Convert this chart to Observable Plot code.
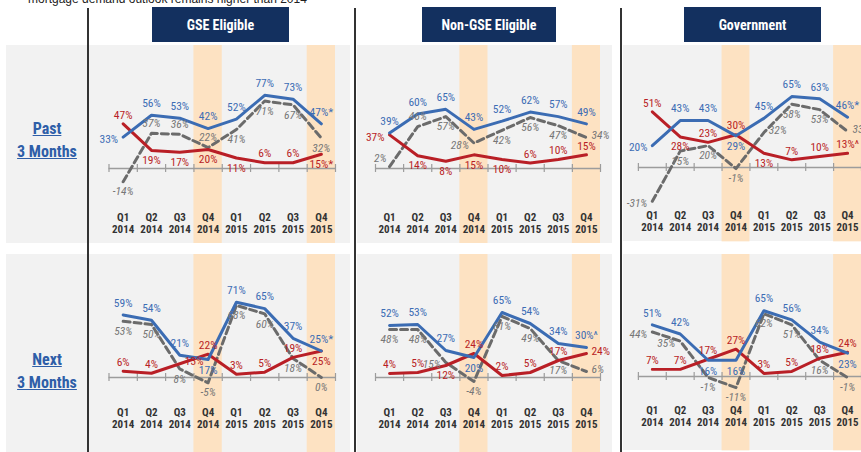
<!DOCTYPE html>
<html><head><meta charset="utf-8">
<script src="https://cdn.jsdelivr.net/npm/d3@7"></script>
<script src="https://cdn.jsdelivr.net/npm/@observablehq/plot@0.6"></script>
<style>
body{margin:0;background:#fff;}
#root{position:relative;width:861px;height:452px;overflow:hidden;background:#fff;font-family:"Liberation Sans Narrow","Roboto Condensed","DejaVu Sans Condensed",sans-serif;}
.abs{position:absolute;}
.hdr{position:absolute;top:7px;height:35px;background:#13305f;color:#fff;font-weight:bold;font-size:14px;display:flex;align-items:center;justify-content:center;}
.vline{position:absolute;top:8px;bottom:0;width:2px;background:#333;}
.rowlab{position:absolute;left:6px;width:82px;text-align:center;color:#2e5ea8;font-size:16px;line-height:23px;font-weight:bold;}
.rowlab span{text-decoration:underline;}
.plotwrap{position:absolute;}
</style></head><body><div id="root"></div>
<script>
// ---------- data ----------
const quarterLabels = ["Q1\n2014","Q2\n2014","Q3\n2014","Q4\n2014","Q1\n2015","Q2\n2015","Q3\n2015","Q4\n2015"];
const highlightQuarters = [3, 7];
const segments = ["GSE Eligible", "Non-GSE Eligible", "Government"];
const horizons = ["Past", "Next"];
const headline = "mortgage demand outlook remains higher than 2014";

// Past 3 months: share reporting growth (up), decline (down), net
const pastGseUp   = [33, 56, 53, 42, 52, 77, 73, 47];
const pastGseDown = [47, 19, 17, 20, 11, 6, 6, 15];
const pastGseNet  = [-14, 37, 36, 22, 41, 71, 67, 32];
const pastNonUp   = [39, 60, 65, 43, 52, 62, 57, 49];
const pastNonDown = [37, 14, 8, 15, 10, 6, 10, 15];
const pastNonNet  = [2, 46, 57, 28, 42, 56, 47, 34];
const pastGovUp   = [20, 43, 43, 29, 45, 65, 63, 46];
const pastGovDown = [51, 28, 23, 30, 13, 7, 10, 13];
const pastGovNet  = [-31, 15, 20, -1, 32, 58, 53, 33];
// Next 3 months
const nextGseUp   = [59, 54, 21, 17, 71, 65, 37, 25];
const nextGseDown = [6, 4, 13, 22, 3, 5, 19, 25];
const nextGseNet  = [53, 50, 8, -5, 68, 60, 18, 0];
const nextNonUp   = [52, 53, 27, 20, 65, 54, 34, 30];
const nextNonDown = [4, 5, 12, 24, 2, 5, 17, 24];
const nextNonNet  = [48, 48, 15, -4, 61, 49, 17, 6];
const nextGovUp   = [51, 42, 16, 16, 65, 56, 34, 23];
const nextGovDown = [7, 7, 17, 27, 3, 5, 18, 24];
const nextGovNet  = [44, 35, -1, -11, 62, 51, 16, -1];

// footnote markers on labels
const labelNotes = [
  {h: 0, s: 0, series: "up", q: 7, mark: "*"},
  {h: 0, s: 0, series: "down", q: 7, mark: "*"},
  {h: 0, s: 2, series: "up", q: 7, mark: "*"},
  {h: 0, s: 2, series: "down", q: 7, mark: "^"},
  {h: 1, s: 0, series: "up", q: 7, mark: "*"},
  {h: 1, s: 1, series: "up", q: 7, mark: "^"}
];

const seriesTable = [
  [[pastGseUp, pastGseDown, pastGseNet], [pastNonUp, pastNonDown, pastNonNet], [pastGovUp, pastGovDown, pastGovNet]],
  [[nextGseUp, nextGseDown, nextGseNet], [nextNonUp, nextNonDown, nextNonNet], [nextGovUp, nextGovDown, nextGovNet]]
];

// ---------- layout ----------
// label side per quarter: a = above, b = below, l = left, k = left-above, r = right
const labelSides = [
  [ {up: "laaaaaaa", down: "abbbbaab", net: "baaabbbb"},
    {up: "aaaaaaaa", down: "lbbbbaaa", net: "kablbbbr"},
    {up: "laabaaaa", down: "abaabaaa", net: "lbbbrbbr"} ],
  [ {up: "aaabaaaa", down: "aaraaaab", net: "bbbbbbbb"},
    {up: "aaabaaaa", down: "aabaaaar", net: "bblbbbbr"},
    {up: "aabbaaab", down: "aaaaaaaa", net: "llbbbbbb"} ]
];
const sideOffsets = {
  a: {dx: 0, dy: -11, anchor: "middle"},
  b: {dx: 0, dy: 11, anchor: "middle"},
  l: {dx: -5, dy: 2, anchor: "end"},
  k: {dx: -3, dy: -8, anchor: "end"},
  r: {dx: 5, dy: -2, anchor: "start"}
};
const seriesDy = {
  up: {a: -12, b: 11},
  down: {a: -9, b: 10},
  net: {a: -10, b: 10}
};

const FONT = '"Liberation Sans Narrow","Roboto Condensed","DejaVu Sans Condensed",sans-serif';
const rowGeom = [
  {top: 45, height: 198, zero: 168, tickDy: 166.5},
  {top: 254, height: 198, zero: 377, tickDy: 152.5}
];
const colGeom = [
  {left: 88, width: 262, bandL: 108.5, bandR: 335, hdrL: 152, hdrR: 289},
  {left: 357, width: 255, bandL: 375, bandR: 600, hdrL: 422, hdrR: 556},
  {left: 623, width: 240, bandL: 638, bandR: 863, hdrL: 684, hdrR: 821}
];
const pxPerUnit = [[0.95, 0.91, 1.1], [1.06, 1.0, 1.02]];

const BLUE = "#3b6cb3", RED = "#b91f26", GRAY = "#6b6b6b";
const seriesStyle = {
  up: {fill: "#3d6db5", fontStyle: "normal"},
  down: {fill: RED, fontStyle: "normal"},
  net: {fill: "#777", fontStyle: "italic"}
};
const root = document.getElementById("root");
function add(html) { root.insertAdjacentHTML("beforeend", html); }

// headline (cut off at top as in the source)
add(`<div class="abs" style="left:28px;top:-8px;font-size:12px;color:#222;white-space:nowrap;font-family:'Liberation Sans',Arial,sans-serif">${headline}</div>`);
// left label column
add(`<div class="abs" style="left:6px;top:45px;width:82px;height:198px;background:#f2f2f2"></div>`);
add(`<div class="abs" style="left:6px;top:254px;width:82px;height:198px;background:#f2f2f2"></div>`);
add(`<div class="rowlab" style="top:117px"><span>${horizons[0]}</span><br><span>3 Months</span></div>`);
add(`<div class="rowlab" style="top:348px"><span>${horizons[1]}</span><br><span>3 Months</span></div>`);

colGeom.forEach((c, s) => {
  add(`<div class="hdr" style="left:${c.hdrL}px;width:${c.hdrR - c.hdrL}px">${segments[s]}</div>`);
});

const edges = quarterLabels.map((_, i) => i - 0.5).concat([quarterLabels.length - 0.5]);

function noteFor(h, s, series, q) {
  const n = labelNotes.find(d => d.h === h && d.s === s && d.series === series && d.q === q);
  return n ? n.mark : "";
}

rowGeom.forEach((r, h) => {
  colGeom.forEach((c, s) => {
    const [up, down, net] = seriesTable[h][s];
    const k = pxPerUnit[h][s];
    const rows = quarterLabels.map((q, i) => ({i, up: up[i], down: down[i], net: net[i]}));
    const labelMarks = [];
    ["net", "down", "up"].forEach(series => {
      const sides = labelSides[h][s][series];
      Object.keys(sideOffsets).forEach(side => {
        const pts = rows.filter(d => sides[d.i] === side)
          .map(d => ({i: d.i, v: d[series], t: `${d[series]}%${noteFor(h, s, series, d.i)}`}));
        if (!pts.length) return;
        const o = sideOffsets[side];
        const dy = seriesDy[series][side] ?? o.dy;
        labelMarks.push(Plot.text(pts, {
          x: "i", y: "v", text: "t", dx: o.dx, dy, textAnchor: o.anchor,
          fill: seriesStyle[series].fill, fontStyle: seriesStyle[series].fontStyle, fontSize: 11.5
        }));
      });
    });
    const zeroPx = r.zero - r.top;
    const chart = Plot.plot({
      width: c.width,
      height: r.height,
      marginLeft: c.bandL - c.left,
      marginRight: c.left + c.width - c.bandR,
      marginTop: 0,
      marginBottom: 0,
      x: {domain: [-0.5, 7.5], axis: null},
      y: {domain: [0, 100], range: [zeroPx, zeroPx - 100 * k], axis: null},
      style: {background: "#f2f2f2", fontFamily: FONT, overflow: "visible"},
      marks: [
        Plot.rect(highlightQuarters, {x1: d => d - 0.5, x2: d => d + 0.5, fill: "#fde2c2"}),
        Plot.ruleY([0], {stroke: "#9c9c9c", strokeWidth: 1.5}),
        Plot.ruleX(edges, {x: d => d, y1: -4 / k, y2: 4 / k, stroke: "#9c9c9c", strokeWidth: 1.2}),
        Plot.line(rows, {x: "i", y: "net", stroke: GRAY, strokeWidth: 3, strokeDasharray: "7,4"}),
        Plot.line(rows, {x: "i", y: "down", stroke: RED, strokeWidth: 3}),
        Plot.line(rows, {x: "i", y: "up", stroke: BLUE, strokeWidth: 3}),
        ...labelMarks,
        Plot.text(quarterLabels, {x: (d, i) => i, text: d => d, frameAnchor: "top", lineAnchor: "top", dy: r.tickDy, fontWeight: "bold", fontSize: 11, fill: "#333", lineHeight: 1.1})
      ]
    });
    const wrap = document.createElement("div");
    wrap.className = "plotwrap";
    wrap.style.left = c.left + "px";
    wrap.style.top = r.top + "px";
    wrap.appendChild(chart);
    root.appendChild(wrap);
  });
});

// dark separators
[88, 355, 621].forEach(x => add(`<div class="vline" style="left:${x - 1}px"></div>`));
</script>
</body></html>
